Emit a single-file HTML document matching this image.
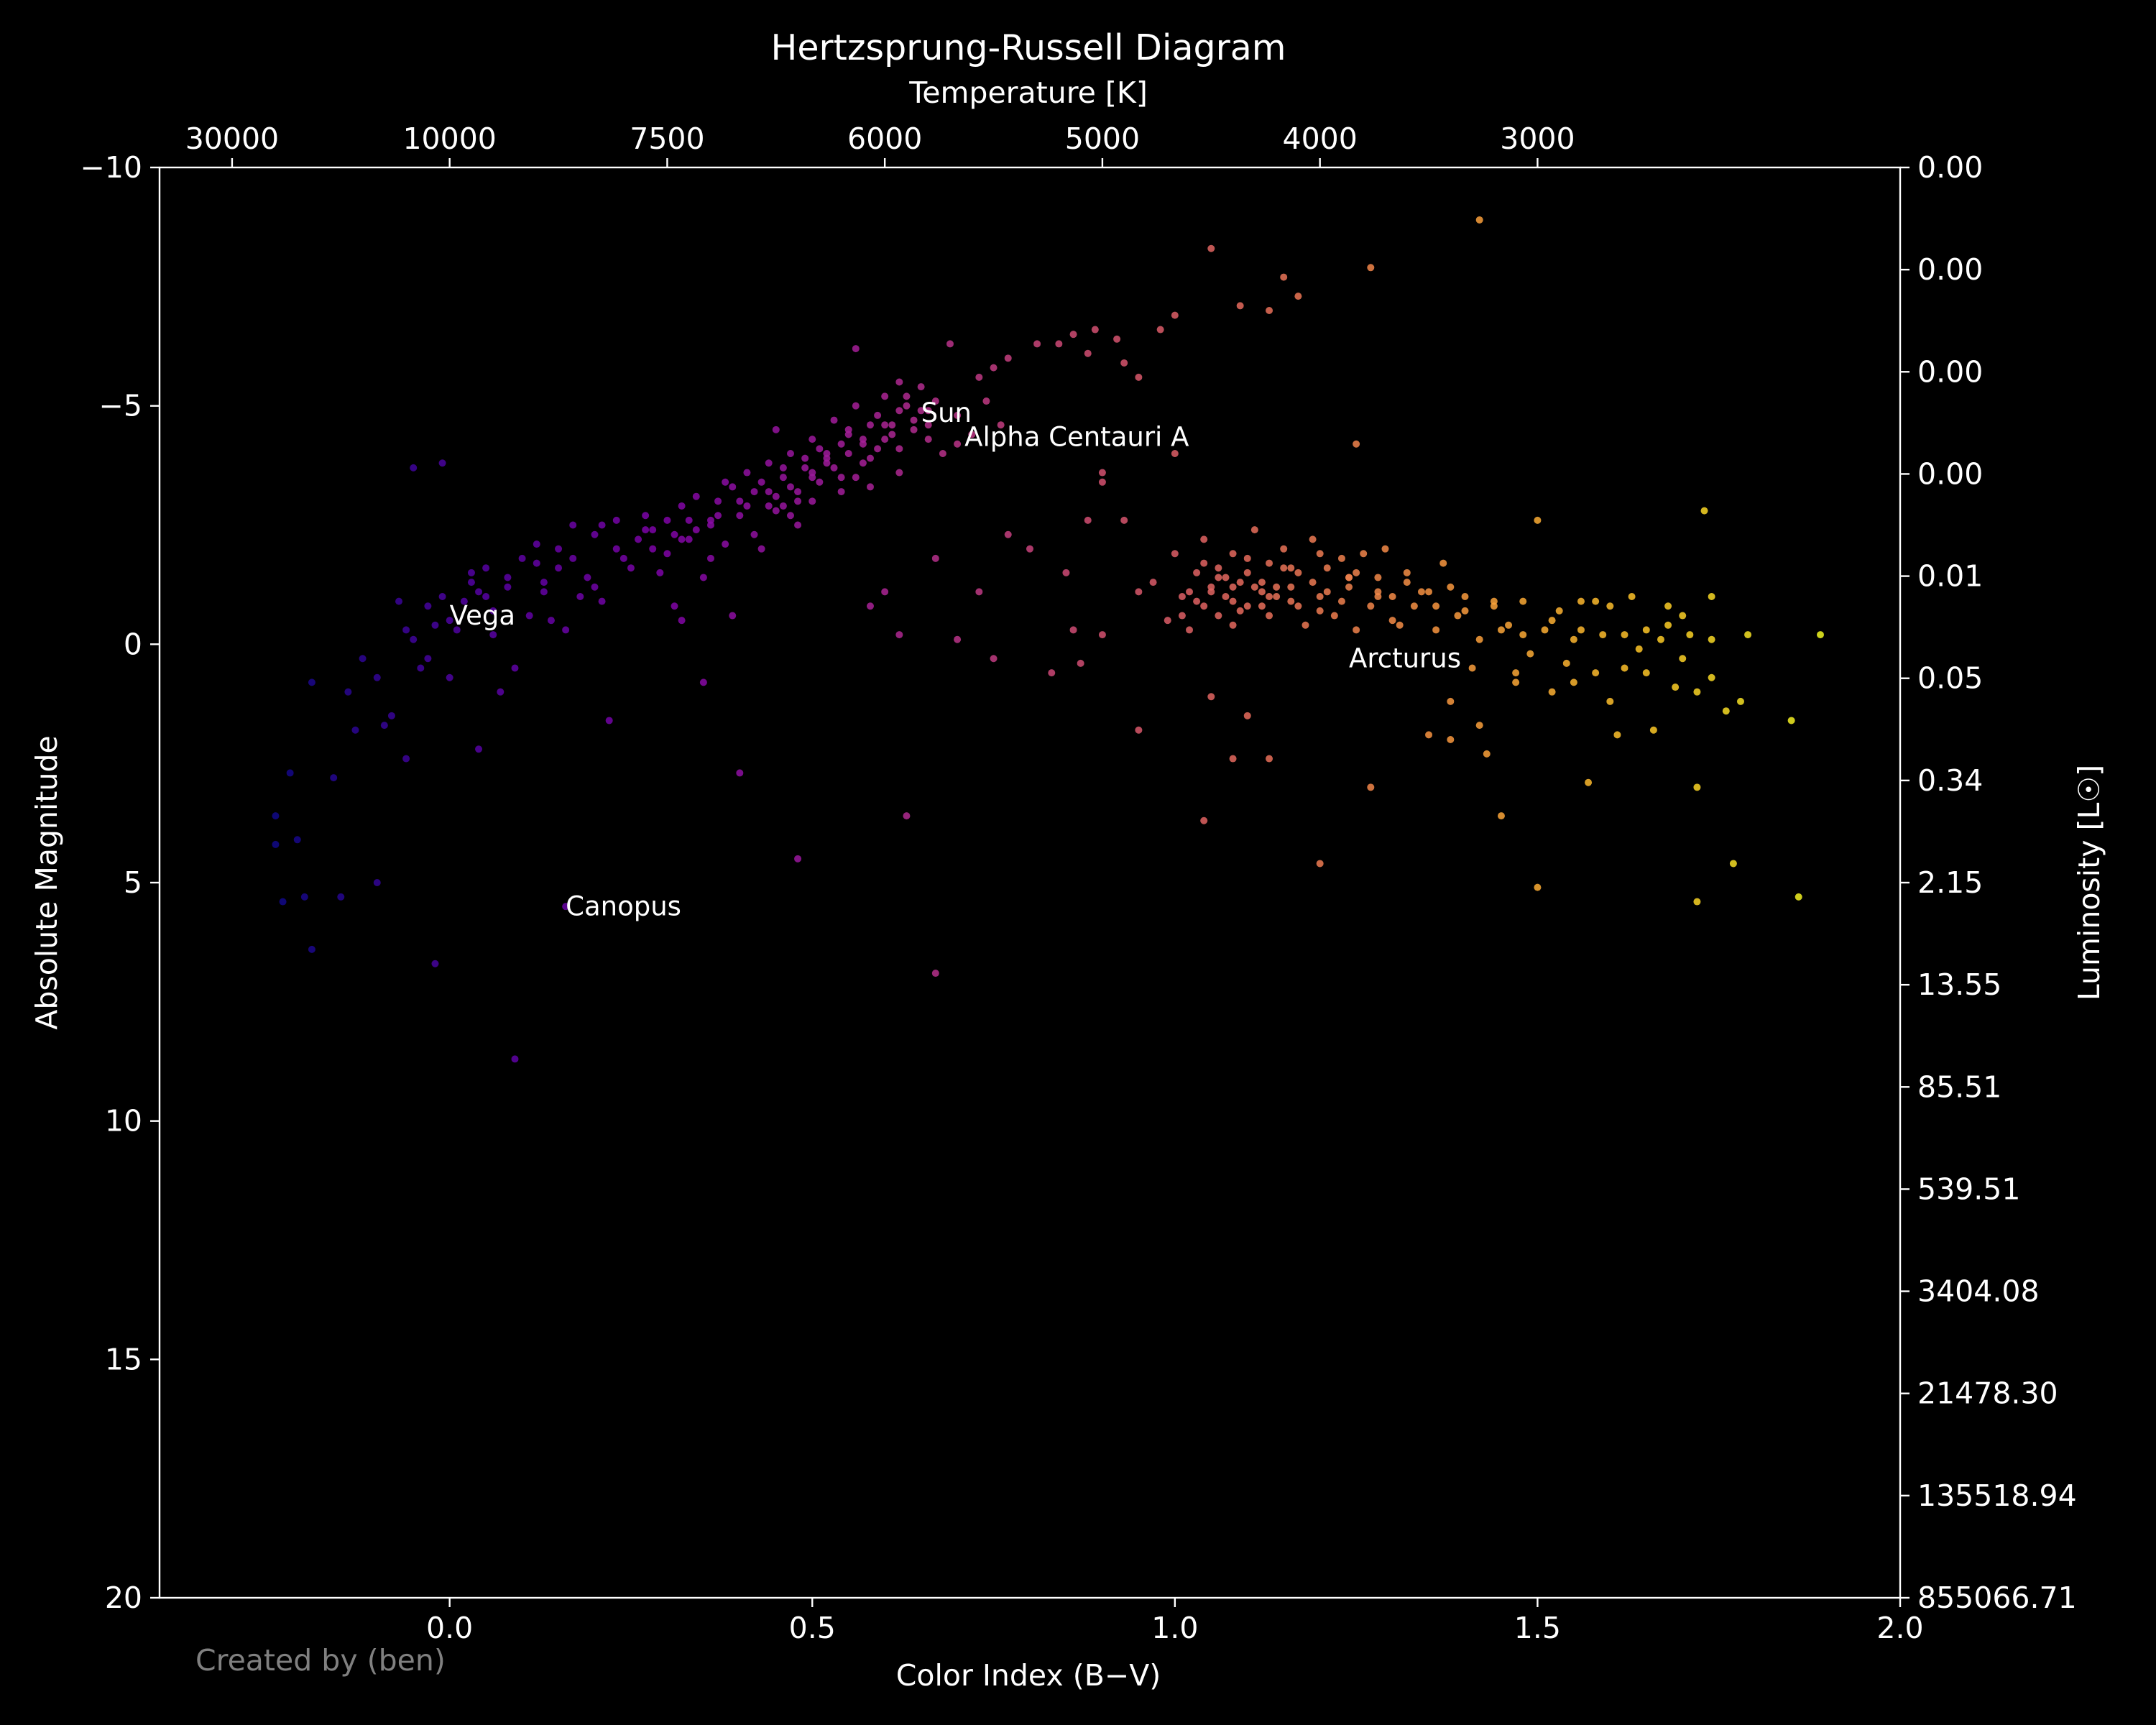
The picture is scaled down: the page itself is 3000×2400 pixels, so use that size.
<!DOCTYPE html>
<html><head><meta charset="utf-8"><title>Hertzsprung-Russell Diagram</title>
<style>html,body{margin:0;padding:0;background:#000;}svg{display:block;}</style>
</head><body>
<svg id="chart" xmlns="http://www.w3.org/2000/svg" width="3000" height="2400" viewBox="0 0 3000 2400" font-family="DejaVu Sans, Liberation Sans, sans-serif">
<rect x="0" y="0" width="3000" height="2400" fill="#000"/>
<g id="plot"></g>
<g id="axes"></g>
</svg>
<script>
const bv=[1.42,1.05,1.15,1.27,1.17,1.13,1.09,1.0,0.98,0.92,0.89,0.86,0.84,0.81,0.77,0.75,0.73,0.69,0.62,0.56,0.93,0.88,0.95,
-0.24,-0.24,-0.23,-0.22,-0.21,-0.2,-0.19,-0.19,-0.16,-0.15,-0.14,-0.13,-0.12,-0.1,-0.1,-0.09,-0.08,-0.07,-0.06,-0.06,-0.05,-0.04,-0.03,-0.03,-0.02,-0.02,-0.01,0,0.0,0.01,0.02,0.03,0.04,0.05,0.06,0.07,0.08,0.09,0.1,0.12,0.11,0.13,0.15,0.16,0.17,0.19,0.2,0.21,0.22,0.23,0.24,0.26,0.27,0.29,0.3,0.31,0.32,0.33,0.34,0.35,0.36,0.37,0.38,0.39,0.4,0.41,0.42,0.43,0.44,0.45,0.46,0.47,0.48,0.49,0.5,0.51,0.52,0.53,0.54,0.55,0.56,0.57,0.58,0.59,0.6,0.61,0.62,0.63,0.64,0.65,0.66,0.67,0.68,0.7,0.72,0.74,0.76,0.62,0.58,0.67,0.6,0.8,0.85,0.9,0.35,0.4,0.48,0.63,0.67,0.09,0.16,0.32,0.7,0.73,0.77,0.75,0.83,0.86,0.88,0.93,0.95,
0.97,0.99,1.0,1.01,1.02,1.03,1.04,1.04,1.05,1.06,1.06,1.07,1.08,1.08,1.09,1.1,1.1,1.11,1.12,1.13,1.13,1.14,1.15,1.16,1.17,1.18,1.19,1.2,1.21,1.22,1.23,1.24,1.25,1.26,1.27,1.28,1.29,1.3,1.31,1.32,1.33,1.35,1.36,1.37,1.38,1.39,1.4,1.41,1.42,1.43,1.44,1.45,1.46,1.47,1.48,1.49,1.5,1.5,1.51,1.52,1.53,1.54,1.55,1.56,1.57,1.58,1.59,1.6,1.61,1.62,1.63,1.64,1.65,1.66,1.67,1.68,1.69,1.7,1.71,1.72,1.72,1.72,1.73,1.74,1.74,1.76,1.77,1.78,1.79,1.85,1.86,1.89,1.25,0.95,0.9,0.9,1.2,1.04,1.27,1.13,1.08,1.1,1.05,1.35,1.38,1.42,1.6,1.65,1.55,1.47,0.87,-0.05,-0.01,1.0,0.45,
0.44,0.46,0.5,0.52,0.55,0.57,0.6,0.62,0.64,0.48,0.42,0.38,0.36,0.3,0.28,0.25,0.2,0.18,0.14,0.06,0.04,0.12,0.54,0.58,0.66,0.7,0.5,0.47,0.4,0.34,1.06,1.08,1.1,1.12,1.14,1.16,1.02,1.2,1.24,1.28,1.32,1.38,
0.43,0.45,0.47,0.49,0.51,0.53,0.55,0.57,0.59,0.61,0.63,0.65,0.41,0.39,0.37,0.33,0.31,0.27,0.23,0.21,0.17,0.15,0.13,0.08,0.05,0.03,0.46,0.5,0.54,0.58,0.62,0.66,0.52,0.56,0.6,0.44,0.48,0.36,0.32,0.28,
1.03,1.05,1.07,1.09,1.11,1.13,1.15,1.17,1.19,1.21,1.23,1.25,1.01,1.04,1.08,1.12,1.16,1.2,1.24,1.28,1.3,1.34,1.36,1.4,1.45,1.52,1.58,1.62,1.68,1.7,1.74,1.56,1.48,1.44];
const mag=[-8.9,-8.3,-7.7,-7.9,-7.3,-7.0,-7.1,-6.9,-6.6,-6.4,-6.6,-6.5,-6.3,-6.3,-6.0,-5.8,-5.6,-6.3,-5.5,-6.2,-5.9,-6.1,-5.6,
4.2,3.6,5.4,2.7,4.1,5.3,6.4,0.8,2.8,5.3,1.0,1.8,0.3,0.7,5.0,1.7,1.5,-0.9,-0.3,2.4,-0.1,0.5,-0.8,0.3,-0.4,6.7,-1.0,-0.5,0.7,-0.3,-0.9,-1.5,2.2,-1.6,-0.7,1.0,-1.2,0.5,-1.8,-2.1,-0.6,-1.3,-2.0,-0.3,-2.5,-1.4,-2.3,-0.9,1.6,-2.6,-1.8,-2.2,-2.7,-1.5,-2.6,-0.8,-2.9,-2.2,-3.1,-1.4,-2.5,-3.0,-3.4,-0.6,-2.7,-3.6,-3.2,-2.0,-3.8,-2.8,-3.5,-4.0,-3.0,-3.7,-4.3,-3.4,-4.0,-4.7,-3.2,-4.4,-5.0,-3.8,-4.6,-4.1,-5.2,-4.4,-3.6,-5.0,-4.7,-5.4,-4.3,-5.1,-4.0,-4.8,-4.4,-5.1,-4.6,-0.2,-0.8,-1.8,-1.1,-2.0,-1.5,-3.4,0.8,2.7,4.5,3.6,6.9,8.7,5.5,-0.5,-0.1,-1.1,-2.3,0.3,0.6,-0.3,-2.6,-2.6,1.8,
-1.3,-0.5,-1.9,-1.0,-0.3,-1.5,-0.8,-2.2,-1.2,-0.6,-1.6,-1.0,-1.9,-0.4,-1.3,-0.8,-1.5,-2.4,-1.1,-0.6,-1.7,-1.2,-2.0,-0.9,-1.5,-0.4,-2.2,-1.0,-1.6,-0.6,-1.8,-1.2,-0.3,-1.9,-0.8,-1.4,-2.0,-1.0,-0.4,-1.5,-0.8,-1.1,-0.3,-1.7,1.2,-0.6,-1.0,0.5,-0.1,2.3,-0.8,3.6,-0.4,0.8,-0.9,0.2,-2.6,5.1,-0.3,1.0,-0.7,0.4,-0.1,-0.9,2.9,0.6,-0.2,-0.8,1.9,0.5,-1.0,0.1,-0.3,1.8,-0.1,-0.8,0.9,0.3,-0.2,1.0,3.0,5.4,-2.8,0.7,-1.0,1.4,4.6,1.2,-0.2,1.6,5.3,-0.2,-4.2,-1.1,-0.2,-3.6,4.6,3.7,3.0,2.4,2.4,1.5,1.1,1.9,2.0,1.7,1.2,0.6,0.8,0.6,0.4,-3.7,-3.8,-4.0,-4.5,
-3.2,-2.9,-3.6,-3.9,-4.0,-4.3,-4.6,-4.9,-4.5,-2.5,-2.3,-2.1,-1.8,-1.9,-2.4,-1.6,-1.2,-1.0,-0.5,-0.2,-1.1,-1.7,-3.5,-3.3,-4.9,-4.2,-3.0,-2.7,-3.0,-2.4,-1.4,-0.9,-1.8,-1.3,-1.0,-1.6,-1.1,-1.9,-1.4,-1.1,-1.3,-1.2,
-3.4,-3.1,-3.3,-3.9,-4.1,-3.7,-4.5,-4.2,-4.8,-4.6,-5.2,-4.9,-2.9,-3.3,-2.7,-2.6,-2.3,-2.4,-2.0,-2.5,-1.8,-1.6,-1.1,-1.4,-1.0,-1.3,-3.7,-3.5,-4.2,-3.9,-4.1,-4.6,-3.8,-3.5,-4.3,-2.9,-3.2,-2.6,-2.2,-2.0,
-0.9,-1.1,-1.4,-0.7,-1.2,-1.0,-1.6,-0.8,-1.3,-1.1,-0.9,-1.5,-0.6,-1.7,-1.2,-0.8,-1.2,-0.7,-1.4,-1.0,-0.5,-1.1,-0.8,-0.7,-0.3,-0.5,-0.9,-0.2,-0.4,-0.6,-0.1,-0.3,-0.2,-0.9];
const xTicks=[0.0,0.5,1.0,1.5,2.0];
const xTickLabels=["0.0","0.5","1.0","1.5","2.0"];
const yTicks=[-10,-5,0,5,10,15,20];
const yTickLabels=["\u221210","\u22125","0","5","10","15","20"];
const tempTicks=[-0.3,0.0,0.3,0.6,0.9,1.2,1.5];
const tempLabels=["30000","10000","7500","6000","5000","4000","3000"];
const lumLabels=["0.00","0.00","0.00","0.00","0.01","0.05","0.34","2.15","13.55","85.51","539.51","3404.08","21478.30","135518.94","855066.71"];
const starNames=["Vega","Sun","Alpha Centauri A","Arcturus","Canopus"];
const starBV=[0.0,0.65,0.71,1.24,0.16];
const starMag=[-0.6,-4.85,-4.35,0.3,5.5];

const L=222,R=2644,T=233,B=2223;
const X0=-0.4,X1=2.0,Y0=-10,Y1=20;
const sx=v=>L+(v-X0)/(X1-X0)*(R-L);
const sy=v=>T+(v-Y0)/(Y1-Y0)*(B-T);
const NS="http://www.w3.org/2000/svg";
function mk(tag,attrs,parent,text){const e=document.createElementNS(NS,tag);for(const k in attrs)e.setAttribute(k,attrs[k]);if(text!==undefined)e.textContent=text;parent.appendChild(e);return e;}
const stops=[[0,[13,8,135]],[0.13,[84,2,163]],[0.25,[126,3,168]],[0.38,[166,32,152]],[0.5,[204,71,120]],[0.63,[230,108,92]],[0.75,[248,149,64]],[0.88,[253,196,39]],[1,[240,249,33]]];
function plasma(t){t=Math.max(0,Math.min(1,t));for(let i=1;i<stops.length;i++){if(t<=stops[i][0]){const a=stops[i-1],b=stops[i];const f=(t-a[0])/(b[0]-a[0]);const c=a[1].map((v,j)=>Math.round(v+(b[1][j]-v)*f));return `rgb(${c[0]},${c[1]},${c[2]})`;}}return "rgb(240,249,33)";}
const plot=document.getElementById('plot');
const axes=document.getElementById('axes');
for(let i=0;i<bv.length;i++){
  const c=mk('circle',{cx:sx(bv[i]),cy:sy(mag[i]),r:5,fill:plasma((bv[i]+0.25)/2.15),'fill-opacity':0.85},plot);
  
  
}
for(let i=0;i<starNames.length;i++){
  const t=mk('text',{x:sx(starBV[i]),y:sy(starMag[i]),fill:'#fff','font-size':37,'dominant-baseline':'central'},plot,starNames[i]);
  
  
}
const frame=mk('rect',{x:L,y:T,width:R-L,height:B-T,fill:'none',stroke:'#fff','stroke-width':2.4},axes);


for(let i=0;i<xTicks.length;i++){
  const x=sx(xTicks[i]);
  mk('line',{x1:x,y1:B,x2:x,y2:B+13,stroke:'#fff','stroke-width':2.4},axes);
  const t=mk('text',{x:x,y:B+56,fill:'#fff','font-size':41,'text-anchor':'middle'},axes,xTickLabels[i]);
  
  
}
for(let i=0;i<yTicks.length;i++){
  const y=sy(yTicks[i]);
  mk('line',{x1:L,y1:y,x2:L-13,y2:y,stroke:'#fff','stroke-width':2.4},axes);
  const t=mk('text',{x:L-24,y:y,fill:'#fff','font-size':41,'text-anchor':'end','dominant-baseline':'central'},axes,yTickLabels[i]);
  
  
}
for(let i=0;i<tempTicks.length;i++){
  const x=sx(tempTicks[i]);
  mk('line',{x1:x,y1:T,x2:x,y2:T-13,stroke:'#fff','stroke-width':2.4},axes);
  const t=mk('text',{x:x,y:T-26,fill:'#fff','font-size':41,'text-anchor':'middle'},axes,tempLabels[i]);
  
  
}
for(let i=0;i<lumLabels.length;i++){
  const y=T+i*(B-T)/(lumLabels.length-1);
  mk('line',{x1:R,y1:y,x2:R+13,y2:y,stroke:'#fff','stroke-width':2.4},axes);
  const t=mk('text',{x:R+24,y:y,fill:'#fff','font-size':41,'dominant-baseline':'central'},axes,lumLabels[i]);
  
  
}
</script>
<svg style="position:absolute;left:0;top:0" width="3000" height="2400" viewBox="0 0 3000 2400" font-family="DejaVu Sans, Liberation Sans, sans-serif">
<text x="1431" y="83" fill="#fff" font-size="49" text-anchor="middle">Hertzsprung-Russell Diagram</text>
<text x="1431" y="143" fill="#fff" font-size="41" text-anchor="middle">Temperature [K]</text>
<text x="1431" y="2345" fill="#fff" font-size="41" text-anchor="middle">Color Index (B−V)</text>
<text x="272" y="2324" fill="#808080" font-size="41">Created by (ben)</text>
<text x="0" y="0" fill="#fff" font-size="41" text-anchor="middle" transform="translate(79,1228) rotate(-90)">Absolute Magnitude</text>
<text x="0" y="0" fill="#fff" font-size="41" text-anchor="middle" transform="translate(2921,1228) rotate(-90)">Luminosity [L☉]</text>
</svg>
</body></html>
